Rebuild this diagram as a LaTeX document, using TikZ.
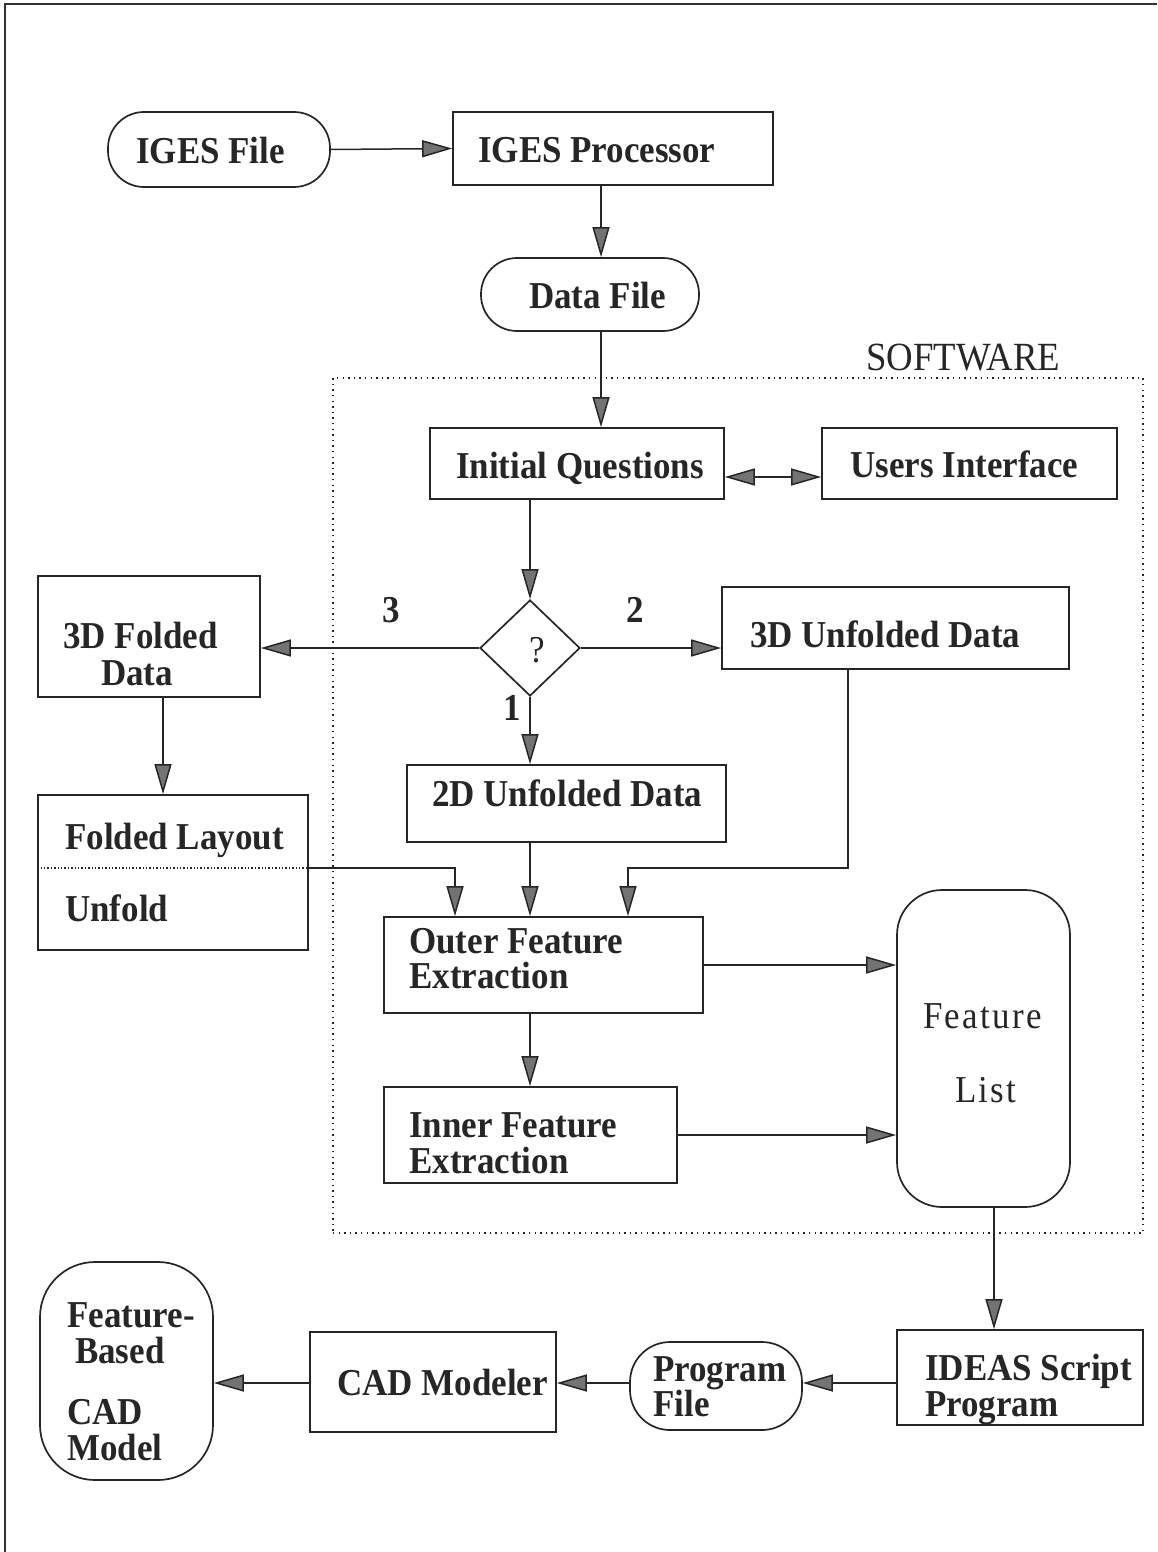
\documentclass[tikz,border=0pt]{standalone}
\usepackage{fontspec}
\setmainfont{Liberation Serif}[FakeStretch=0.92]
\usetikzlibrary{arrows.meta,shapes.geometric}
\tikzset{
  box/.style={draw=black!85, line width=1.7pt, inner sep=0pt},
  rbox/.style={box, rounded corners=#1},
  lbl/.style={anchor=base west, inner sep=0pt, text height=26pt, text depth=4pt, font=\fontsize{38}{44}\selectfont\bfseries, text=black!85},
  lblr/.style={anchor=base west, inner sep=0pt, text height=26pt, text depth=4pt, font=\fontsize{38}{44}\selectfont, text=black!85},
  arr/.style={draw=black!85, line width=1.5pt, -{Triangle[length=30pt,width=17pt,fill=black!55]}},
  dbl/.style={draw=black!85, line width=1.5pt, {Triangle[length=30pt,width=17pt,fill=black!55]}-{Triangle[length=30pt,width=17pt,fill=black!55]}},
}
\begin{document}
\begin{tikzpicture}[x=1pt,y=-1pt]
\useasboundingbox (0,0) rectangle (1157,1552);
% frame
\coordinate (frTL) at (5,4);
\coordinate (frTR) at (1157,4);
\coordinate (frBL) at (5,1552);
\draw[line width=2pt, black!80] (frBL) -- (frTL) -- (frTR);

% software region
\node[draw=black!85, line width=1.7pt, dash pattern=on 1.4pt off 4.2pt, minimum width=810pt, minimum height=855pt, inner sep=0pt] (software) at (738,805.5) {};
\node[lblr, font=\fontsize{40}{44}\selectfont] (tsoft) at (866,370) {SOFTWARE};

% nodes
\node[rbox=36pt, minimum width=222pt, minimum height=75pt] (igesfile) at (219,149.5) {};
\node[box, minimum width=320pt, minimum height=73pt] (igesproc) at (613,148.5) {};
\node[rbox=36pt, minimum width=218pt, minimum height=73pt] (datafile) at (590,294.5) {};
\node[box, minimum width=294pt, minimum height=71pt] (initq) at (577,463.5) {};
\node[box, minimum width=295pt, minimum height=71pt] (users) at (969.5,463.5) {};
\node[draw=black!85, line width=1.7pt, diamond, inner sep=0pt, minimum width=100pt, minimum height=96pt] (dia) at (530,648) {};
\node[box, minimum width=222pt, minimum height=121pt] (fold3d) at (149,636.5) {};
\node[box, minimum width=347pt, minimum height=82pt] (unf3d) at (895.5,628) {};
\node[box, minimum width=319pt, minimum height=77pt] (unf2d) at (566.5,803.5) {};
\node[box, minimum width=270pt, minimum height=155pt] (layout) at (173,872.5) {};
\node[box, minimum width=319pt, minimum height=96pt] (outer) at (543.5,965) {};
\node[box, minimum width=293pt, minimum height=96pt] (inner) at (530.5,1135) {};
\node[rbox=45pt, minimum width=173pt, minimum height=317pt] (flist) at (983.5,1048.5) {};
\node[box, minimum width=246pt, minimum height=95pt] (ideas) at (1020,1377.5) {};
\node[rbox=40pt, minimum width=172pt, minimum height=88pt] (progfile) at (716,1386) {};
\node[box, minimum width=246pt, minimum height=100pt] (cad) at (433,1382) {};
\node[rbox=55pt, minimum width=173pt, minimum height=218pt] (model) at (126.5,1371) {};

% divider in layout box
\coordinate (divY) at (0,868);
\draw[black!85, line width=1.6pt, dash pattern=on 1.4pt off 2pt] (layout.west |- divY) -- (layout.east |- divY);

% texts
\node[lbl] (t1) at (136,163) {IGES File};
\node[lbl] (t2) at (478,162) {IGES Processor};
\node[lbl] (t3) at (529,308) {Data File};
\node[lbl] (t4) at (456,478) {Initial Questions};
\node[lbl] (t5) at (850,477) {Users Interface};
\node[lbl] (t6a) at (63,648) {3D Folded};
\node[lbl] (t6b) at (101,685) {Data};
\node[lbl] (n3) at (382,622) {3};
\node[lbl] (n2) at (626,622) {2};
\node[lbl] (n1) at (503,720) {1};
\node[lblr] (q) at (529,662) {?};
\node[lbl] (t7) at (750,647) {3D Unfolded Data};
\node[lbl] (t8) at (432,806) {2D Unfolded Data};
\node[lbl] (t9a) at (65,849) {Folded Layout};
\node[lbl] (t9b) at (65,921) {Unfold};
\node[lbl] (t10a) at (409,953) {Outer Feature};
\node[lbl] (t10b) at (409,988) {Extraction};
\node[lbl] (t11a) at (409,1137) {Inner Feature};
\node[lbl] (t11b) at (409,1173) {Extraction};
\node[lblr, font=\fontsize{38}{44}\selectfont\addfontfeature{LetterSpace=6}] (t12a) at (923,1028) {Feature};
\node[lblr, font=\fontsize{38}{44}\selectfont\addfontfeature{LetterSpace=6}] (t12b) at (955,1102) {List};
\node[lbl] (t13a) at (925,1380) {IDEAS Script};
\node[lbl] (t13b) at (925,1416) {Program};
\node[lbl] (t14a) at (653,1381) {Program};
\node[lbl] (t14b) at (653,1416) {File};
\node[lbl] (t15) at (337,1395) {CAD Modeler};
\node[lbl] (t16a) at (67,1327) {Feature-};
\node[lbl] (t16b) at (75,1363) {Based};
\node[lbl] (t16c) at (67,1424) {CAD};
\node[lbl] (t16d) at (67,1460) {Model};

% helper coordinates
\coordinate (xA) at (601,0);
\coordinate (xB) at (530,0);
\coordinate (yUI) at (0,477);
\coordinate (xF) at (163,0);
\coordinate (xL) at (455,0);
\coordinate (xU) at (848,0);
\coordinate (xR) at (628,0);
\coordinate (yJ) at (0,868);
\coordinate (yO1) at (0,965);
\coordinate (yI1) at (0,1135);
\coordinate (xS) at (994,0);
\coordinate (yB) at (0,1383);

% connectors
\draw[arr] (igesfile.east) -- (igesproc.west);
\draw[arr] (igesproc.south -| xA) -- (datafile.north -| xA);
\draw[arr] (datafile.south -| xA) -- (initq.north -| xA);
\draw[dbl] (initq.east |- yUI) -- (users.west |- yUI);
\draw[arr] (initq.south -| xB) -- (dia.north);
\draw[arr] (dia.west) -- (fold3d.east |- dia.west);
\draw[arr] (dia.east) -- (unf3d.west |- dia.east);
\draw[arr] (dia.south) -- (unf2d.north -| dia.south);
\draw[arr] (fold3d.south -| xF) -- (layout.north -| xF);
\draw[arr] (layout.east |- yJ) -| (outer.north -| xL);
\draw[arr] (unf2d.south -| xB) -- (outer.north -| xB);
\draw[arr] (unf3d.south -| xU) |- (xR |- yJ) -- (outer.north -| xR);
\draw[arr] (outer.east |- yO1) -- (flist.west |- yO1);
\draw[arr] (outer.south -| xB) -- (inner.north -| xB);
\draw[arr] (inner.east |- yI1) -- (flist.west |- yI1);
\draw[arr] (flist.south -| xS) -- (ideas.north -| xS);
\draw[arr] (ideas.west |- yB) -- (progfile.east |- yB);
\draw[arr] (progfile.west |- yB) -- (cad.east |- yB);
\draw[arr] (cad.west |- yB) -- (model.east |- yB);
\end{tikzpicture}
\end{document}
